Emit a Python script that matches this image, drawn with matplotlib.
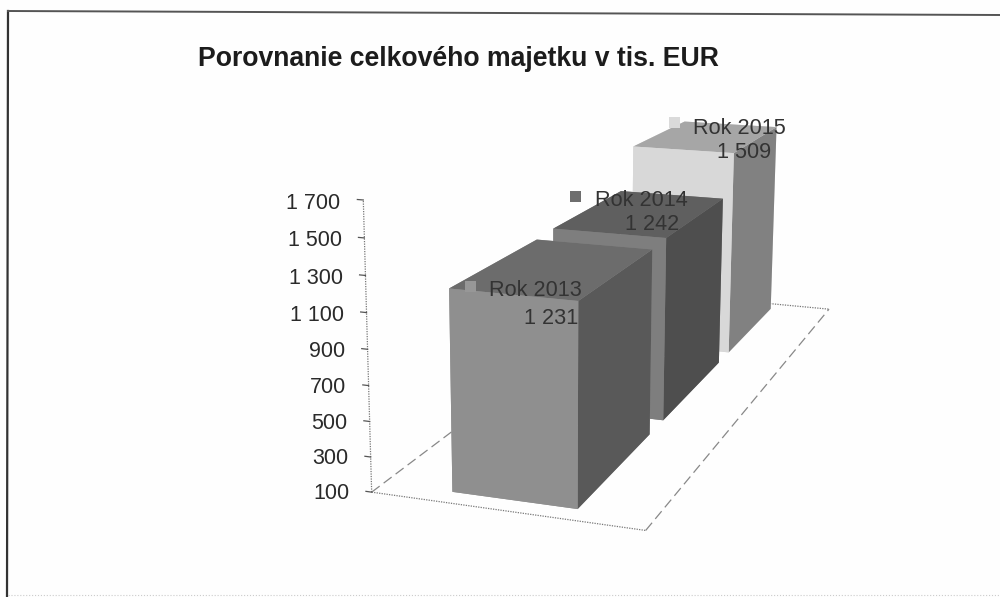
import matplotlib
matplotlib.use('Agg')
import matplotlib.pyplot as plt
from matplotlib.lines import Line2D
from matplotlib.patches import Rectangle
from mpl_toolkits.mplot3d import proj3d

plt.rcParams['font.family'] = ['Liberation Sans', 'DejaVu Sans']

# data
years = ['Rok 2013', 'Rok 2014', 'Rok 2015']
values = [1231, 1242, 1509]
value_labels = ['1 231', '1 242', '1 509']
z_ticks = [100, 300, 500, 700, 900, 1100, 1300, 1500, 1700]
z_tick_labels = ['100', '300', '500', '700', '900', '1 100', '1 300', '1 500', '1 700']

W, H = 1000, 597
Z0 = 100

# bar footprint on the floor (0-1 in both directions)
bar_x = (0.2617, 0.7258)
bar_depth = [(0.0328, 0.3029), (0.3621, 0.6408), (0.6970, 0.9675)]

# face colours per bar: top, front, right
face_top = ['#6c6c6c', '#5f5f5f', '#a6a6a6']
face_front = ['#8f8f8f', '#7e7e7e', '#d8d8d8']
face_right = ['#595959', '#4e4e4e', '#818181']
key_colors = ['#979797', '#6e6e6e', '#dadada']

# label places in pixels, from the top left
key_xy = [(470, 287), (575, 197), (674, 123)]
name_xy = [(489, 291), (595, 200), (693, 128)]
value_xy = [(578, 319), (679, 225), (771, 153)]


def px(x, y):
    return x / W, 1 - y / H


fig = plt.figure(figsize=(W / 100, H / 100), dpi=100, facecolor='#fefefe')
# axes box found by fitting the camera to the picture
L, B, S = 246.53, -64.42, 771.12
ax = fig.add_axes([L / W, B / H, S / W, S / H], projection='3d', computed_zorder=False)
ax.patch.set_visible(False)
ax.set_axis_off()
ax.set_xlim(0, 1)
ax.set_ylim(0, 1)
ax.set_zlim(Z0, 1700)
ax.view_init(13.6468, -72.1488, -0.7297)
ax.set_proj_type('persp', focal_length=0.3904)
ax.set_box_aspect((0.9672, 2.8673, 1))
M = ax.get_proj()

# floor
ax.plot([0, 1], [0, 0], [Z0, Z0], color='#777777', lw=0.9, ls=(0, (1, 1)), zorder=1)
ax.plot([0, 1], [1, 1], [Z0, Z0], color='#777777', lw=0.9, ls=(0, (1, 1)), zorder=1)
ax.plot([0, 0], [0, 1], [Z0, Z0], color='#888888', lw=0.9, ls=(0, (8, 4)), zorder=1)
ax.plot([1, 1], [0, 1], [Z0, Z0], color='#888888', lw=0.9, ls=(0, (8, 4)), zorder=1)

# value axis
ax.plot([0, 0], [0, 0], [Z0, 1700], color='#777777', lw=0.9, ls=(0, (1, 1)), zorder=1)
for z, lab in zip(z_ticks, z_tick_labels):
    ax.plot([-0.022, 0], [0, 0], [z, z], color='#555555', lw=0.9, zorder=1)
    # the label sits a little below its tick, as in the original
    tx, ty, _ = proj3d.proj_transform(-0.085, 0, z - 27, M)
    ax.text2D(tx, ty, lab, ha='right', va='center', fontsize=15.5, color='#2a2a2a', zorder=6)

# bars, back to front
for i in [2, 1, 0]:
    y0, y1 = bar_depth[i]
    # faces: bottom, top, front, back, left, right
    cols = [face_front[i], face_top[i], face_front[i], face_front[i], face_front[i], face_right[i]]
    ax.bar3d(bar_x[0], y0, Z0, bar_x[1] - bar_x[0], y1 - y0, values[i] - Z0,
             color=cols, shade=False, zorder=2 + (2 - i))

# labels
for i in range(3):
    kx, ky = key_xy[i]
    fig.add_artist(Rectangle(px(kx - 5, ky + 5), 11 / W, 11 / H, transform=fig.transFigure,
                             facecolor=key_colors[i], edgecolor='none', zorder=3))
    fig.text(*px(*name_xy[i]), years[i], ha='left', va='center', fontsize=15.6, color='#333333')
    fig.text(*px(*value_xy[i]), value_labels[i], ha='right', va='center', fontsize=15.6, color='#333333')

fig.text(*px(198, 59), 'Porovnanie celkového majetku v tis. EUR', ha='left', va='center',
         fontsize=19.2, fontweight='bold', color='#1c1c1c')

# frame of the scanned page
fig.add_artist(Line2D([x / W for x in [8, 7]], [1 - y / H for y in [11, 597]], color='#333333', lw=1.6))
fig.add_artist(Line2D([x / W for x in [8, 1000]], [1 - y / H for y in [11, 15]], color='#555555', lw=1.4))
fig.add_artist(Line2D([x / W for x in [8, 1000]], [1 - y / H for y in [595, 595]], color='#cccccc', lw=0.8, ls=':'))

plt.savefig('out.png', dpi=100, facecolor=fig.get_facecolor())
